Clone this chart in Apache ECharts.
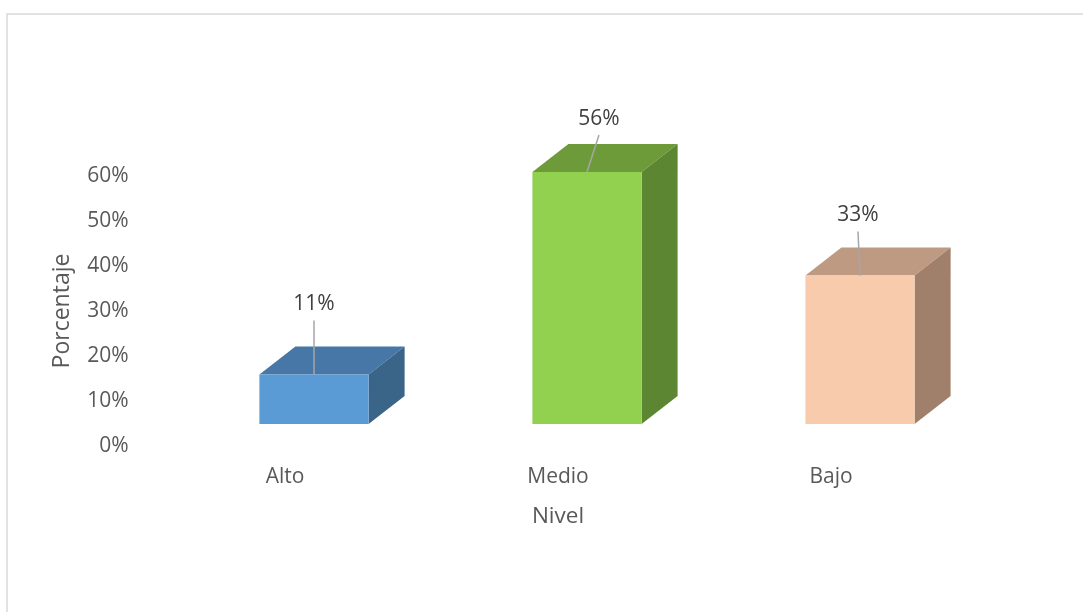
<!DOCTYPE html>
<html>
<head>
<meta charset="utf-8">
<script src="https://cdn.jsdelivr.net/npm/echarts@6/dist/echarts.min.js"></script>
<style>html,body{margin:0;padding:0;background:#fff;}#c{width:1083px;height:612px;}</style>
</head>
<body>
<div id="c"></div>
<script>
// ---- data ----
const categories = ['Alto', 'Medio', 'Bajo'];
const values = [0.11, 0.56, 0.33];
const valueLabels = ['11%', '56%', '33%'];
const yTicks = [0, 0.1, 0.2, 0.3, 0.4, 0.5, 0.6];

// ---- style ----
const frontColors = ['#5B9BD5', '#92D050', '#F8CBAD'];
const topColors = ['#4677A6', '#6D9B3A', '#BF9A83'];
const sideColors = ['#3B6489', '#5D8632', '#A0806B'];
const labelDx = [0, 12, -2];
const labelLift = [70, 53, 60];
const DEPTH_X = 36, DEPTH_Y = -28;
const FONT = '"Open Sans", "Liberation Sans", sans-serif';

const chart = echarts.init(document.getElementById('c'), null, {renderer: 'canvas'});

function renderItem(params, api) {
  const i = params.dataIndex;
  const v = api.value(1);
  const base = api.coord([i, 0]);
  const top = api.coord([i, v]);
  const bw = api.size([1, 0])[0] * 0.4;
  const x0 = base[0] - bw / 2, x1 = base[0] + bw / 2;
  const yb = base[1], yt = top[1];
  const lx = base[0] + labelDx[i];
  const ly = yt - labelLift[i];
  return {
    type: 'group',
    children: [
      {type: 'polygon', shape: {points: [[x0, yt], [x0 + DEPTH_X, yt + DEPTH_Y], [x1 + DEPTH_X, yt + DEPTH_Y], [x1, yt]]}, style: {fill: topColors[i]}},
      {type: 'polygon', shape: {points: [[x1, yt], [x1 + DEPTH_X, yt + DEPTH_Y], [x1 + DEPTH_X, yb + DEPTH_Y], [x1, yb]]}, style: {fill: sideColors[i]}},
      {type: 'rect', shape: {x: x0, y: yt, width: bw, height: yb - yt}, style: {fill: frontColors[i]}},
      {type: 'line', shape: {x1: lx, y1: ly + 16, x2: base[0], y2: yt}, style: {stroke: '#A6A6A6', lineWidth: 1.5}},
      {type: 'text', style: {x: lx, y: ly, text: valueLabels[i], fill: '#404040', font: '21px ' + FONT, textAlign: 'center', textVerticalAlign: 'middle'}}
    ]
  };
}

chart.setOption({
  animation: false,
  backgroundColor: '#ffffff',
  graphic: [{type: 'rect', shape: {x: 7, y: 14, width: 1200, height: 800}, style: {fill: 'none', stroke: '#D9D9D9', lineWidth: 1.5}, silent: true}],
  grid: [
    {left: 148.5, right: 115.5, top: 176, bottom: 166},
    {left: 177.5, right: 86.5, top: 154, bottom: 188}
  ],
  xAxis: [
    {type: 'category', gridIndex: 0, data: categories, axisLine: {show: false}, axisTick: {show: false},
     axisLabel: {color: '#595959', fontSize: 21, fontFamily: FONT, margin: 21},
     name: 'Nivel', nameLocation: 'middle', nameGap: 59, nameTextStyle: {color: '#595959', fontSize: 22.5, fontFamily: FONT}},
    {type: 'category', gridIndex: 1, data: categories, show: false}
  ],
  yAxis: [
    {type: 'value', gridIndex: 0, min: 0, max: 0.6, interval: 0.1, axisLine: {show: false}, axisTick: {show: false}, splitLine: {show: false},
     axisLabel: {color: '#595959', fontSize: 21, fontFamily: FONT, margin: 20, padding: [4, 0, 0, 0], formatter: v => Math.round(v * 100) + '%'},
     name: 'Porcentaje', nameLocation: 'middle', nameGap: 75, nameRotate: 90, nameTextStyle: {color: '#595959', fontSize: 23, fontFamily: FONT}},
    {type: 'value', gridIndex: 1, min: 0, max: 0.6, show: false}
  ],
  series: [{
    type: 'custom', xAxisIndex: 1, yAxisIndex: 1,
    renderItem: renderItem,
    data: values.map((v, i) => [i, v])
  }]
});
</script>
</body>
</html>
